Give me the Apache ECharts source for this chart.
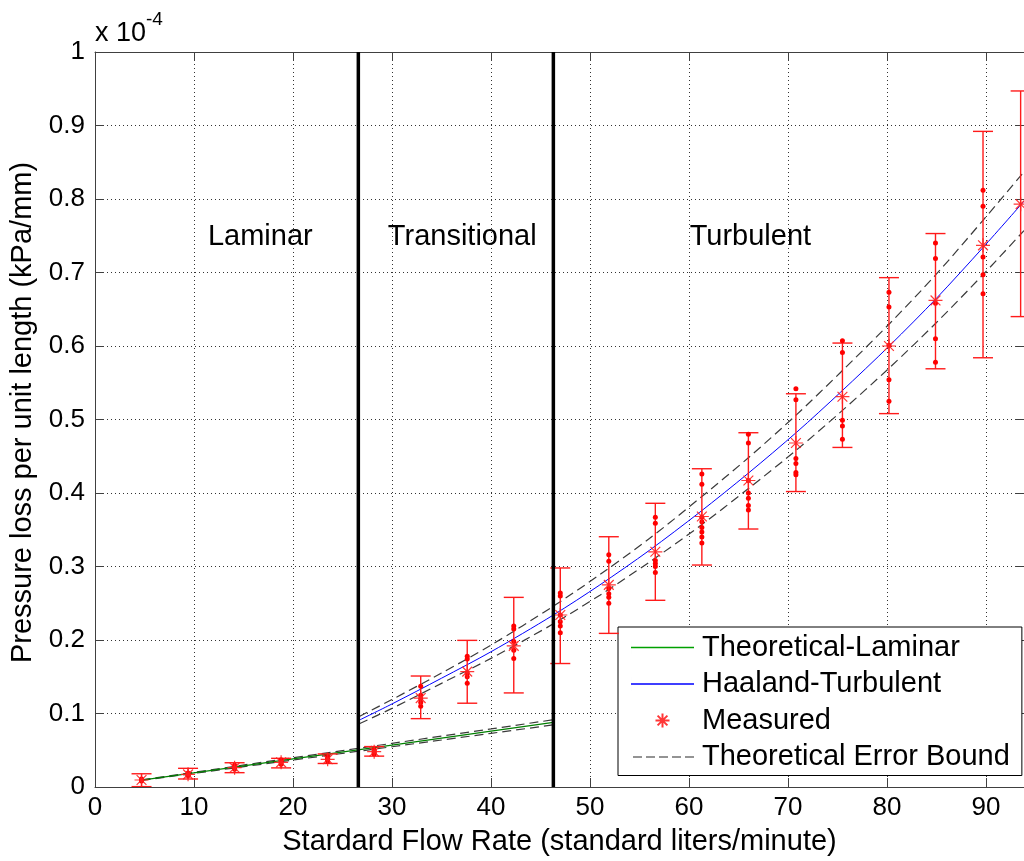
<!DOCTYPE html>
<html>
<head>
<meta charset="utf-8">
<script src="https://cdn.jsdelivr.net/npm/echarts@6/dist/echarts.min.js"></script>
<style>html,body{margin:0;padding:0;background:#fff}#c{width:1024px;height:861px}</style>
</head>
<body>
<div id="c"></div>
<script>
// ---- Data (y values in units of 1e-4 kPa/mm) ----
const xTickInterval = 10;
const yTickInterval = 0.1;
const regionBoundaries = [26.6, 46.3];
const regionNames = ['Laminar', 'Transitional', 'Turbulent'];
const regionLabelX = [16.7, 37.1, 66.2];
const regionLabelY = 0.748;

const laminarX = [4.7, 10, 20, 30, 40, 46.3];
const laminarY = [0.0093, 0.0193, 0.0382, 0.0571, 0.0760, 0.0879];
const laminarUpper = [0.0097, 0.0201, 0.0397, 0.0594, 0.0790, 0.0915];
const laminarLower = [0.0089, 0.0185, 0.0367, 0.0548, 0.0730, 0.0845];

const turbX = [26.7, 30, 35, 40, 46.3, 51, 56, 61.1, 66, 70.9, 75.3, 80.3, 85, 89.7, 93.84];
const turbY = [0.091, 0.113, 0.148, 0.184, 0.234, 0.275, 0.322, 0.374, 0.427, 0.483, 0.537, 0.601, 0.665, 0.734, 0.797];
const turbUpper = [0.096, 0.119, 0.155, 0.193, 0.246, 0.289, 0.338, 0.393, 0.448, 0.507, 0.564, 0.631, 0.698, 0.771, 0.837];
const turbLower = [0.086, 0.107, 0.141, 0.175, 0.222, 0.261, 0.306, 0.355, 0.406, 0.459, 0.510, 0.571, 0.632, 0.697, 0.757];

const measX = [4.7, 9.4, 14.1, 18.8, 23.5, 28.2, 32.9, 37.6, 42.3, 47.0, 51.9, 56.6, 61.3, 66.0, 70.8, 75.5, 80.2, 84.9, 89.7, 93.5];
const measMean = [0.0095, 0.0172, 0.0263, 0.0336, 0.0377, 0.048, 0.121, 0.157, 0.192, 0.234, 0.275, 0.320, 0.368, 0.417, 0.468, 0.531, 0.600, 0.662, 0.737, 0.793];
const measLow = [0.0005, 0.0109, 0.0195, 0.026, 0.032, 0.042, 0.093, 0.114, 0.128, 0.168, 0.209, 0.254, 0.302, 0.351, 0.402, 0.462, 0.508, 0.569, 0.584, 0.640];
const measHigh = [0.018, 0.0254, 0.033, 0.039, 0.045, 0.055, 0.151, 0.1995, 0.258, 0.298, 0.3405, 0.386, 0.433, 0.482, 0.535, 0.604, 0.693, 0.753, 0.892, 0.947];

const samples = [
  [0.008, 0.0095, 0.011],
  [0.016, 0.0175, 0.019, 0.0155],
  [0.024, 0.026, 0.028, 0.0295],
  [0.031, 0.033, 0.035, 0.037],
  [0.035, 0.037, 0.039, 0.041],
  [0.045, 0.047, 0.049, 0.051],
  [0.137, 0.125, 0.120, 0.110, 0.115],
  [0.178, 0.174, 0.155, 0.150, 0.141],
  [0.219, 0.215, 0.198, 0.186, 0.175],
  [0.264, 0.260, 0.234, 0.225, 0.219, 0.210],
  [0.316, 0.307, 0.263, 0.258, 0.250, 0.270],
  [0.367, 0.359, 0.308, 0.304, 0.300, 0.292],
  [0.426, 0.412, 0.367, 0.361, 0.353, 0.347, 0.340, 0.332],
  [0.480, 0.468, 0.417, 0.400, 0.393, 0.383, 0.377],
  [0.542, 0.527, 0.447, 0.440, 0.428, 0.425],
  [0.607, 0.591, 0.499, 0.491, 0.473],
  [0.673, 0.653, 0.601, 0.554, 0.525],
  [0.740, 0.719, 0.658, 0.610, 0.578],
  [0.812, 0.790, 0.721, 0.697, 0.671],
  []
];

// ---- Build ----
const zip = (xs, ys) => xs.map((x, i) => [x, ys[i]]);
const FONT = "'Liberation Sans', Arial, sans-serif";
const STAR = 'path://M5,0 L5,10 M0,5 L10,5 M1.5,1.5 L8.5,8.5 M1.5,8.5 L8.5,1.5';
const dashStyle = { color: '#3a3a3a', width: 1.2, type: [9, 5] };

// legend icons (63x14 box with a thin line through the middle)
const ICON_SOLID = 'path://M0,0 L0.01,0 L0.01,14 L0,14 Z M0,6.2 L63,6.2 L63,7.8 L0,7.8 Z';
let dashPath = 'path://M0,0 L0.01,0 L0.01,14 L0,14 Z';
for (let s = 2; s < 63; s += 13) {
  const e = Math.min(s + 9, 63);
  dashPath += ` M${s},6.3 L${e},6.3 L${e},7.7 L${s},7.7 Z`;
}
const ICON_DASH = dashPath;

const sampleData = [];
samples.forEach((arr, i) => arr.forEach(v => sampleData.push([measX[i], v])));

const chart = echarts.init(document.getElementById('c'), null, { renderer: 'canvas' });

const axisCommon = {
  axisLine: { show: true, onZero: false, lineStyle: { color: '#404040', width: 1 } },
  axisTick: { show: true, inside: true, length: 9, lineStyle: { color: '#404040' } },
};

chart.setOption({
  backgroundColor: '#fff',
  animation: false,
  textStyle: { fontFamily: FONT },
  grid: { left: 95, top: 52, right: 0, bottom: 74 },
  legend: {
    data: [
      { name: 'Theoretical-Laminar', icon: ICON_SOLID, itemStyle: { color: '#00a000' } },
      { name: 'Haaland-Turbulent', icon: ICON_SOLID, itemStyle: { color: '#0000ff' } },
      { name: 'Measured' },
      { name: 'Theoretical Error Bound', icon: ICON_DASH, itemStyle: { color: '#707070' } }
    ],
    orient: 'vertical',
    left: 618, top: 627,
    padding: [6, 12, 4, 13],
    itemWidth: 63, itemHeight: 14, itemGap: 7.5,
    backgroundColor: '#fff',
    borderColor: '#000', borderWidth: 1,
    textStyle: { fontSize: 29, color: '#000', fontFamily: FONT, lineHeight: 29, padding: [0, 0, 0, 3] },
    selectedMode: false
  },
  graphic: [{
    type: 'text', left: 95, top: 10,
    style: {
      text: '{a|x 10}{b|-4}',
      rich: {
        a: { fontSize: 27, fontFamily: FONT, fill: '#000', padding: [10, 0, 0, 0] },
        b: { fontSize: 19, fontFamily: FONT, fill: '#000', verticalAlign: 'top' }
      }
    }
  }],
  xAxis: [{
    type: 'value', min: 0, max: 93.84, interval: xTickInterval, position: 'bottom',
    name: 'Stardard Flow Rate (standard liters/minute)', nameLocation: 'middle', nameGap: 40,
    nameTextStyle: { fontSize: 29, color: '#000', fontFamily: FONT },
    ...axisCommon,
    axisLabel: { fontSize: 26, color: '#000', margin: 8, fontFamily: FONT, showMaxLabel: false },
    splitLine: { show: true, lineStyle: { color: '#333', type: [1, 3], width: 1 } }
  }, {
    type: 'value', min: 0, max: 93.84, interval: xTickInterval, position: 'top',
    ...axisCommon, axisLabel: { show: false }, splitLine: { show: false }
  }],
  yAxis: [{
    type: 'value', min: 0, max: 1, interval: yTickInterval, position: 'left',
    name: 'Pressure loss per unit length (kPa/mm)', nameLocation: 'middle', nameGap: 53,
    nameTextStyle: { fontSize: 29, color: '#000', fontFamily: FONT, padding: [0, 0, 0, 14] },
    ...axisCommon,
    axisLabel: { fontSize: 26, color: '#000', margin: 10, fontFamily: FONT },
    splitLine: { show: true, lineStyle: { color: '#333', type: [1, 3], width: 1 } }
  }, {
    type: 'value', min: 0, max: 1, interval: yTickInterval, position: 'right',
    ...axisCommon, axisLabel: { show: false }, splitLine: { show: false }
  }],
  series: [
    { name: 'Theoretical-Laminar', type: 'line', data: zip(laminarX, laminarY), showSymbol: false, symbol: 'none',
      lineStyle: { color: '#008000', width: 1.3 }, itemStyle: { color: '#00a000' }, z: 3 },
    { name: 'Haaland-Turbulent', type: 'line', data: zip(turbX, turbY), showSymbol: false, symbol: 'none', smooth: 0.3,
      lineStyle: { color: '#0000ff', width: 1 }, itemStyle: { color: '#0000ff' }, z: 3 },
    { name: 'Measured', type: 'scatter', data: zip(measX, measMean), symbol: STAR, symbolSize: 14,
      itemStyle: { color: 'rgba(255,0,0,0)', borderColor: '#ff2020', borderWidth: 1.2, opacity: 0.9 }, z: 5 },
    { name: 'Theoretical Error Bound', type: 'line', data: zip(laminarX, laminarUpper), showSymbol: false, symbol: 'none',
      lineStyle: dashStyle, itemStyle: { color: '#707070' }, z: 2 },
    { name: 'Theoretical Error Bound', type: 'line', data: zip(laminarX, laminarLower), showSymbol: false, symbol: 'none',
      lineStyle: dashStyle, itemStyle: { color: '#707070' }, z: 2 },
    { name: 'Theoretical Error Bound', type: 'line', data: zip(turbX, turbUpper), showSymbol: false, symbol: 'none', smooth: 0.3,
      lineStyle: dashStyle, itemStyle: { color: '#707070' }, z: 2 },
    { name: 'Theoretical Error Bound', type: 'line', data: zip(turbX, turbLower), showSymbol: false, symbol: 'none', smooth: 0.3,
      lineStyle: dashStyle, itemStyle: { color: '#707070' }, z: 2 },
    { name: 'samples', type: 'scatter', data: sampleData, symbol: 'circle', symbolSize: 5,
      itemStyle: { color: '#ff0000', opacity: 1 }, z: 4 },
    { name: 'errorbars', type: 'custom', data: measX.map((x, i) => [x, measLow[i], measHigh[i]]),
      encode: { x: 0, y: [1, 2] }, z: 4, clip: true,
      renderItem: function (params, api) {
        const x = api.value(0);
        const lo = api.coord([x, api.value(1)]);
        const hi = api.coord([x, api.value(2)]);
        const hw = 10;
        const st = { stroke: '#ff1a1a', lineWidth: 1.4 };
        return { type: 'group', children: [
          { type: 'line', shape: { x1: lo[0], y1: lo[1], x2: hi[0], y2: hi[1] }, style: st },
          { type: 'line', shape: { x1: lo[0] - hw, y1: lo[1], x2: lo[0] + hw, y2: lo[1] }, style: st },
          { type: 'line', shape: { x1: hi[0] - hw, y1: hi[1], x2: hi[0] + hw, y2: hi[1] }, style: st }
        ]};
      }
    },
    { name: 'boundary1', type: 'line', data: [[regionBoundaries[0], 0], [regionBoundaries[0], 1]], showSymbol: false, symbol: 'none',
      lineStyle: { color: '#000', width: 3.5 }, z: 6 },
    { name: 'boundary2', type: 'line', data: [[regionBoundaries[1], 0], [regionBoundaries[1], 1]], showSymbol: false, symbol: 'none',
      lineStyle: { color: '#000', width: 3.5 }, z: 6 },
    { name: 'regions', type: 'scatter', symbolSize: 1, itemStyle: { color: 'rgba(0,0,0,0)', opacity: 1 },
      data: regionNames.map((n, i) => [regionLabelX[i], regionLabelY, n]),
      label: { show: true, position: 'inside', formatter: p => p.data[2], fontSize: 29, color: '#000',
               opacity: 1, textBorderWidth: 0, fontFamily: FONT },
      z: 7 }
  ]
});
</script>
</body>
</html>
